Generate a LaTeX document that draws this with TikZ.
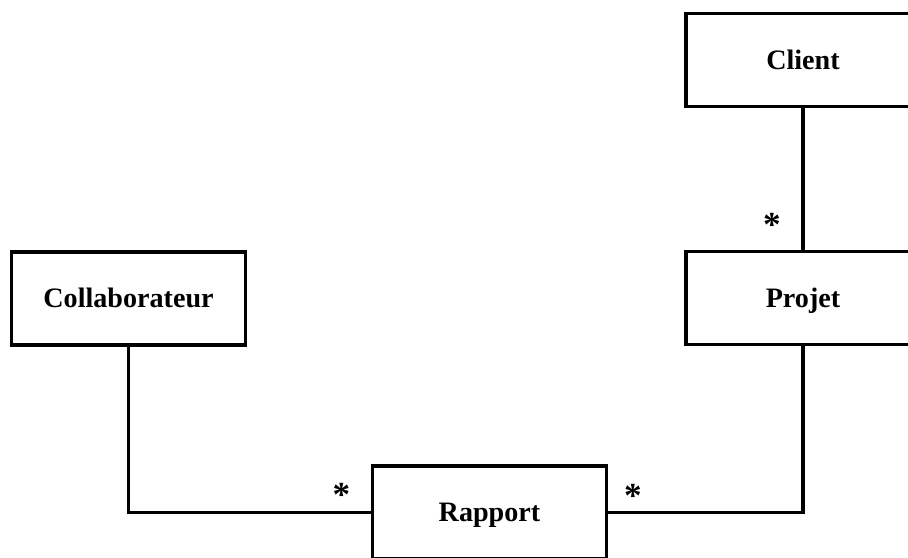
\documentclass[tikz,border=0pt]{standalone}
\usepackage{fontspec}
\setmainfont{Liberation Serif}
\usepackage{tikz}

\tikzset{
  classe/.style={draw, line width=2.2pt, minimum width=4.68cm, minimum height=1.86cm,
    font=\fontsize{16}{19}\selectfont\bfseries, inner sep=0pt,
    text height=10.6pt, text depth=0pt},
  lien/.style={line width=2.2pt},
  mult/.style={font=\fontsize{20}{24}\selectfont\bfseries, inner sep=0pt}
}

\begin{document}
\begin{tikzpicture}[x=0.02cm,y=-0.02cm]
\useasboundingbox (0,0) rectangle (908,557);
\clip (0,0) rectangle (908,557);

\node[classe] (client) at (803,60) {Client};
\node[classe] (projet) at (803,298) {Projet};
\node[classe] (collab) at (128.5,298.5) {Collaborateur};
\node[classe] (rapport) at (489.5,512.5) {Rapport};

\draw[lien] (client) -- (projet);
\draw[lien] (collab) |- (rapport);
\draw[lien] (projet) |- (rapport);

% multiplicites
\node[mult] (mprojet) at (772,225) {*};
\node[mult] (mcollab) at (341.5,495) {*};
\node[mult] (mrapport) at (633,496) {*};
\end{tikzpicture}
\end{document}
